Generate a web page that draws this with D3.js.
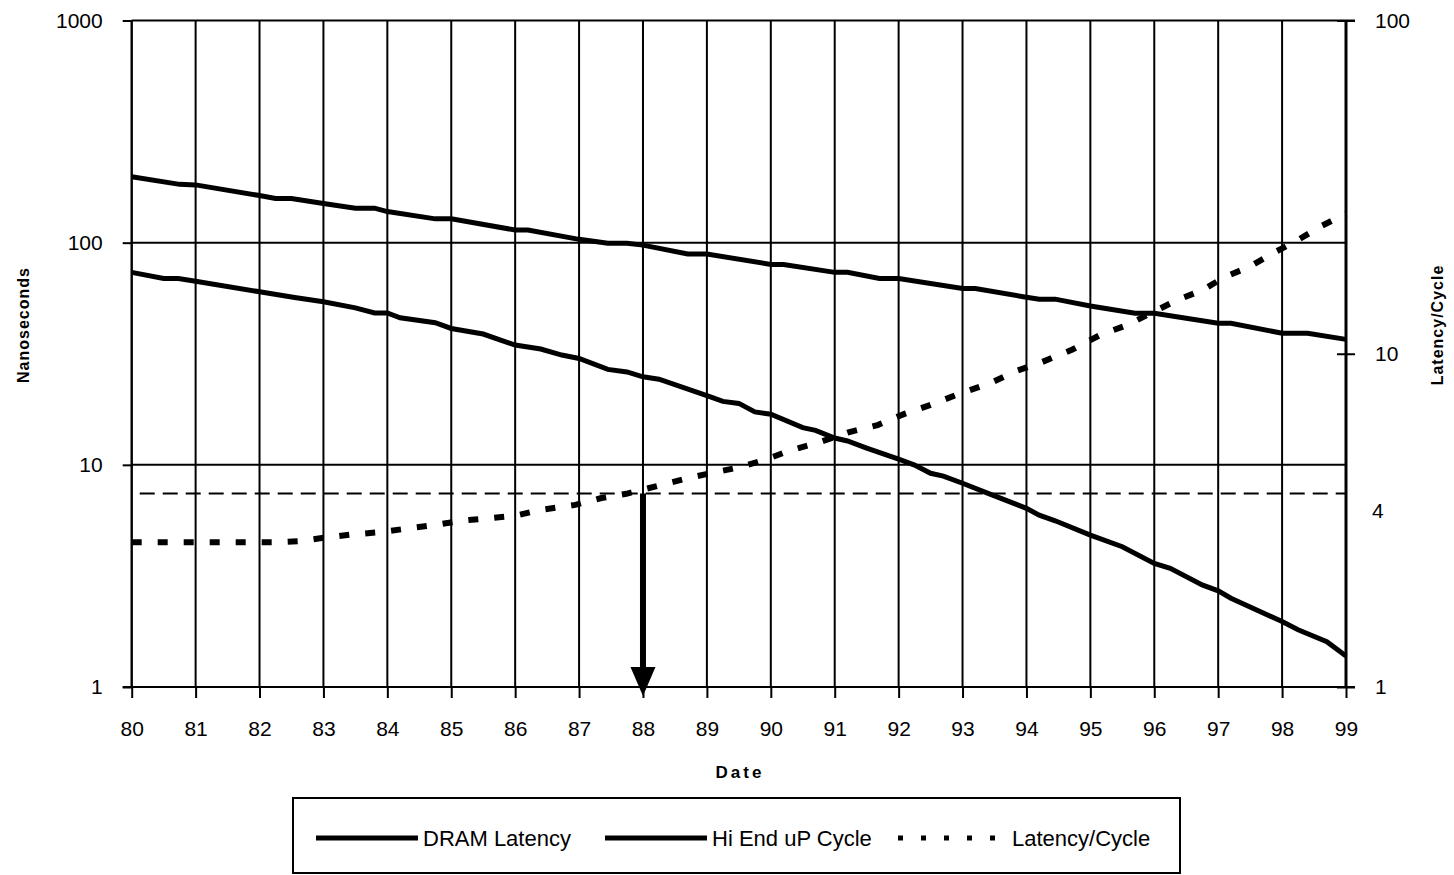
<!DOCTYPE html>
<html>
<head>
<meta charset="utf-8">
<script src="https://cdn.jsdelivr.net/npm/d3@7"></script>
<style>
  html, body { margin: 0; padding: 0; background: #fff; }
  svg { display: block; }
  text { font-family: "Liberation Sans", Arial, sans-serif; fill: #000; }
</style>
</head>
<body>
<svg id="chart" width="1454" height="875"></svg>
<script>
// ---- data ----
const years = [80,81,82,83,84,85,86,87,88,89,90,91,92,93,94,95,96,97,98,99];
const leftTicks = [1, 10, 100, 1000];
const rightTicks = [1, 10, 100];

const dramYears = [80,80.75,81,82,82.25,82.5,83,83.5,83.8,84,84.75,85,86,86.2,87,87.45,87.75,88,88.7,89,90,90.2,91,91.2,91.7,92,93,93.2,93.95,94.2,94.45,95,95.7,96,97,97.2,98,98.4,99];
const dramNs    = [198,183,182,163,158,158,150,143,143,138,128,128,114,114,103.5,99.3,99.3,97.5,88.9,88.9,79.8,79.8,73.5,73.5,69,69,62.2,62.2,57.1,55.7,55.7,51.9,48.1,48.1,43.4,43.4,39.1,39.1,36.7];

const cpuYears = [80,80.5,80.73,81,82,82.55,83,83.5,83.8,84,84.2,84.75,85,85.5,86,86.4,86.73,87,87.45,87.75,88,88.25,89,89.25,89.5,89.75,90,90.5,90.7,91,91.2,91.5,92,92.25,92.5,92.7,93,93.4,94,94.2,94.45,95,95.5,96,96.25,96.75,97,97.2,98,98.25,98.7,99];
const cpuNs    = [73.5,69,69,67.1,60.1,56.7,54.2,50.9,48.3,48.3,45.9,43.6,41.1,38.8,34.6,33.2,31.2,30.1,26.9,26.2,24.9,24.3,20.5,19.3,18.9,17.3,16.9,14.7,14.3,13.2,12.8,11.9,10.6,9.98,9.16,8.9,8.26,7.44,6.37,5.94,5.6,4.83,4.28,3.6,3.42,2.88,2.71,2.51,1.97,1.81,1.6,1.38];

const ratioYears = [80,82.3,82.62,83.04,83.45,83.85,84.26,84.73,85.2,85.6,86.02,86.4,86.94,87.35,87.74,88.29,88.7,89.1,89.5,89.9,90.32,90.74,91.2,91.67,92.09,92.5,92.92,93.45,93.84,94.22,94.72,95.16,95.58,96.36,96.75,97.1,97.48,97.87,98.24,98.6,99];
const ratioVal   = [2.72,2.72,2.74,2.81,2.87,2.91,2.98,3.06,3.16,3.21,3.27,3.40,3.52,3.69,3.80,4.04,4.23,4.40,4.56,4.80,5.14,5.41,5.80,6.11,6.60,7.02,7.55,8.19,8.88,9.40,10.3,11.4,12.2,14.5,15.5,17.0,18.2,20.1,21.9,24.1,26.3];

const thresholdRatio = 3.81;   // dashed reference line (right axis)
const thresholdLabel = "4";
const arrowYear = 88;

const legendItems = [
  { label: "DRAM Latency", dash: null },
  { label: "Hi End uP Cycle", dash: null },
  { label: "Latency/Cycle", dash: "5,18" }
];

// ---- layout ----
const svg = d3.select("#chart");
const L = 131.7, R = 1346, T = 20.5, B = 687;
const tickFont = "21px";

const x = d3.scaleLinear().domain([80, 99]).range([L, R]);
const yL = d3.scaleLog().domain([1, 1000]).range([B, T]);
const yR = d3.scaleLog().domain([1, 100]).range([B, T]);

const g = svg.append("g");

// vertical gridlines
g.selectAll("line.vgrid").data(years).join("line")
  .attr("x1", d => x(d)).attr("x2", d => x(d))
  .attr("y1", T).attr("y2", B)
  .attr("stroke", "#000").attr("stroke-width", 2);

// horizontal gridlines
g.selectAll("line.hgrid").data(leftTicks).join("line")
  .attr("x1", L).attr("x2", d => (d === 1 || d === 1000) ? R + 9 : R)
  .attr("y1", d => yL(d)).attr("y2", d => yL(d))
  .attr("stroke", "#000").attr("stroke-width", 2);

// bottom axis
const xAxis = d3.axisBottom(x).tickValues(years).tickSize(11).tickPadding(23)
  .tickFormat(d3.format("d"));
const gx = svg.append("g").attr("transform", `translate(0,${B})`).call(xAxis);
gx.select(".domain").attr("d", `M${L - 9},0H${R + 9}`).attr("stroke-width", 2);
gx.selectAll(".tick line").attr("stroke-width", 2);
gx.selectAll(".tick text").style("font-size", tickFont).style("font-family", "Liberation Sans, Arial, sans-serif");

// left axis
const yAxisL = d3.axisLeft(yL).tickValues(leftTicks).tickSize(9).tickPadding(20)
  .tickFormat(d3.format("d"));
const gl = svg.append("g").attr("transform", `translate(${L},0)`).call(yAxisL);
gl.select(".domain").attr("d", `M0,${T}V${B}`).attr("stroke-width", 2);
gl.selectAll(".tick line").attr("stroke-width", 2);
gl.selectAll(".tick text").style("font-size", tickFont).style("font-family", "Liberation Sans, Arial, sans-serif");

// right axis
const yAxisR = d3.axisRight(yR).tickValues(rightTicks).tickSize(9).tickPadding(20)
  .tickFormat(d3.format("d"));
const gr = svg.append("g").attr("transform", `translate(${R},0)`).call(yAxisR);
gr.select(".domain").attr("d", `M0,${T}V${B}`).attr("stroke-width", 3);
gr.selectAll(".tick line").attr("x1", -9).attr("stroke-width", 2);
gr.selectAll(".tick text").style("font-size", tickFont).style("font-family", "Liberation Sans, Arial, sans-serif");

// threshold dashed line
const yTh = yR(thresholdRatio);
svg.append("line")
  .attr("x1", L + 8).attr("x2", R).attr("y1", yTh).attr("y2", yTh)
  .attr("stroke", "#000").attr("stroke-width", 2).attr("stroke-dasharray", "15,8");
svg.append("text").attr("x", R + 26).attr("y", yTh + 17).attr("dy", "0.35em")
  .style("font-size", tickFont).text(thresholdLabel);

// series lines
const lineL = d3.line().x(d => x(d[0])).y(d => yL(d[1]));
const lineR = d3.line().x(d => x(d[0])).y(d => yR(d[1]));

svg.append("path").datum(d3.zip(dramYears, dramNs))
  .attr("d", lineL).attr("fill", "none").attr("stroke", "#000").attr("stroke-width", 5);
svg.append("path").datum(d3.zip(cpuYears, cpuNs))
  .attr("d", lineL).attr("fill", "none").attr("stroke", "#000").attr("stroke-width", 5);
svg.append("path").datum(d3.zip(ratioYears, ratioVal))
  .attr("d", lineR).attr("fill", "none").attr("stroke", "#000").attr("stroke-width", 6)
  .attr("stroke-dasharray", "10,16");

// arrow
const ax = x(arrowYear);
svg.append("line").attr("x1", ax).attr("x2", ax).attr("y1", yTh).attr("y2", B - 18)
  .attr("stroke", "#000").attr("stroke-width", 6);
svg.append("path")
  .attr("d", `M${ax - 12.5},${B - 20}L${ax + 12.5},${B - 20}L${ax},${B + 9}Z`)
  .attr("fill", "#000");

// axis titles
svg.append("text").attr("transform", `translate(29,325) rotate(-90)`)
  .attr("text-anchor", "middle").style("font-size", "16px").style("font-weight", "bold")
  .style("letter-spacing", "1px").text("Nanoseconds");
svg.append("text").attr("transform", `translate(1443,325) rotate(-90)`)
  .attr("text-anchor", "middle").style("font-size", "16px").style("font-weight", "bold")
  .style("letter-spacing", "1px").text("Latency/Cycle");
svg.append("text").attr("x", 740).attr("y", 778)
  .attr("text-anchor", "middle").style("font-size", "17px").style("font-weight", "bold")
  .style("letter-spacing", "3px").text("Date");

// legend
const lg = svg.append("g");
lg.append("rect").attr("x", 293).attr("y", 798).attr("width", 887).attr("height", 75)
  .attr("fill", "#fff").attr("stroke", "#000").attr("stroke-width", 2);
const legX = [316, 605, 898];
const legTextX = [423, 712, 1012];
const legY = 838;
legendItems.forEach((it, i) => {
  lg.append("line").attr("x1", legX[i]).attr("x2", legX[i] + 102)
    .attr("y1", legY).attr("y2", legY)
    .attr("stroke", "#000").attr("stroke-width", 5)
    .attr("stroke-dasharray", it.dash);
  lg.append("text").attr("x", legTextX[i]).attr("y", legY).attr("dy", "0.35em")
    .style("font-size", "22px").text(it.label);
});
</script>
</body>
</html>
